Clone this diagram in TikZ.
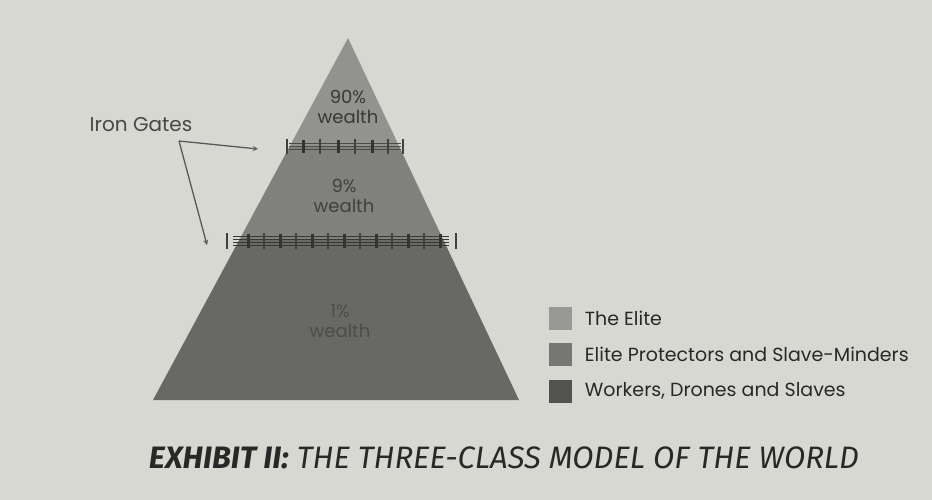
\documentclass[tikz,border=0pt]{standalone}
\usepackage{fontspec}
\setmainfont{Poppins}
\newfontfamily\capfont{Fira Sans}
\usetikzlibrary{positioning,calc}
\definecolor{paper}{RGB}{216,216,210}
\definecolor{eliteclr}{RGB}{146,146,142}
\definecolor{protclr}{RGB}{128,128,124}
\definecolor{workclr}{RGB}{104,104,100}
\definecolor{leg1}{RGB}{152,152,150}
\definecolor{leg2}{RGB}{118,118,116}
\definecolor{leg3}{RGB}{82,82,80}
\definecolor{ink}{RGB}{40,40,40}

\begin{document}
\begin{tikzpicture}[x=1pt, y=-1pt,
    wlabel/.style={align=center, inner sep=0pt, font=\fontsize{18}{20}\selectfont},
    legbox/.style={minimum size=23pt, inner sep=0pt},
    legtext/.style={right=13pt of #1, inner sep=0pt, text=ink, font=\fontsize{19}{22}\selectfont},
    rail/.style={line width=0.8pt, black!70},
    post/.style={line width=1.2pt, black!75},
    bigpost/.style={line width=3pt, black!80}]
    \fill[paper] (0,0) rectangle (932,500);
    \useasboundingbox (0,0) rectangle (932,500);

    % Pyramid
    \coordinate (apex) at (348,38);
    \coordinate (bl) at (153,400);
    \coordinate (br) at (519,400);
    \fill[workclr] (bl) -- (br) -- ($(apex)!0.558!(br)$) -- ($(apex)!0.558!(bl)$) -- cycle;
    \fill[protclr] ($(apex)!0.558!(bl)$) -- ($(apex)!0.558!(br)$) -- ($(apex)!0.301!(br)$) -- ($(apex)!0.301!(bl)$) -- cycle;
    \fill[eliteclr] (apex) -- ($(apex)!0.301!(br)$) -- ($(apex)!0.301!(bl)$) -- cycle;

    \node[wlabel, text=black!78] (top) at (348,107) {90\%\\wealth};
    \node[wlabel, text=black!75] (mid) at (344,196) {9\%\\wealth};
    \node[wlabel, text=black!70] (low) at (340,321) {1\%\\wealth};

    % Upper gate
    \foreach \y in {143,146,149}
        \draw[rail] (289,\y) -- (401,\y);
    \foreach \x in {287,320,355,388,403}
        \draw[post] (\x,139) -- (\x,154);
    \foreach \x in {303,338,372}
        \draw[bigpost] (\x,140) -- (\x,153);

    % Lower gate
    \foreach \y in {236,239,242,245}
        \draw[rail, black!78] (233,\y) -- (449,\y);
    \foreach \x in {227,264,296,...,456}
        \draw[post] (\x,233) -- (\x,249);
    \foreach \x in {248,280,...,440}
        \draw[bigpost] (\x,234) -- (\x,248);

    % Iron Gates label
    \node[text=black!72, font=\fontsize{20}{22}\selectfont] (gates) at (141,125) {Iron Gates};
    \coordinate (fork) at (179,141);
    \coordinate (gate1) at (258,149);
    \coordinate (gate2) at (207,245);
    \draw[->, >=stealth, black!65, line width=1.3pt] (fork) -- (gate1);
    \draw[->, >=stealth, black!65, line width=1.3pt] (fork) -- (gate2);

    % Legend
    \node[legbox, fill=leg1] (box1) at (560,318) {};
    \node[legbox, fill=leg2] (box2) at (560,354) {};
    \node[legbox, fill=leg3] (box3) at (560,391) {};
    \node[legtext=box1] (txt1) {The Elite};
    \node[legtext=box2] (txt2) {Elite Protectors and Slave-Minders};
    \node[legtext=box3] (txt3) {Workers, Drones and Slaves};

    % Caption
    \node[text=ink, font=\capfont\itshape\fontsize{31}{33}\selectfont] (caption) at (504,458)
        {\textbf{EXHIBIT II:} THE THREE-CLASS MODEL OF THE WORLD};
\end{tikzpicture}
\end{document}
